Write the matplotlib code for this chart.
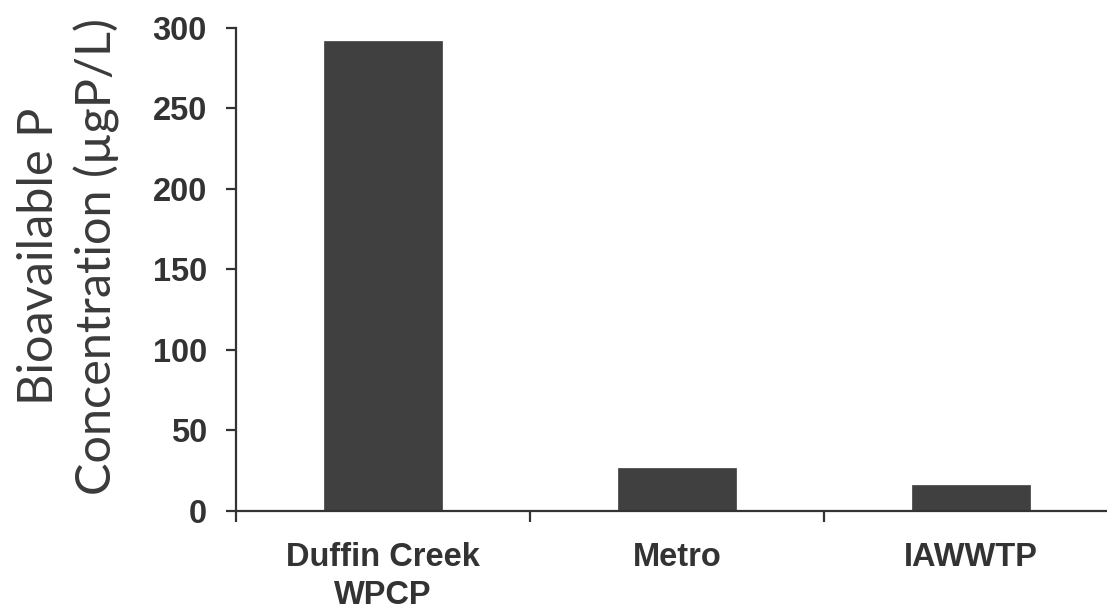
import matplotlib.pyplot as plt
import matplotlib.ticker as ticker

# values
sites = ['Duffin Creek\nWPCP', 'Metro', 'IAWWTP']
bioavail_p = [292, 27, 16]
y_ticks = [0, 50, 100, 150, 200, 250, 300]

DARK = '#404040'
INK = '#333333'

fig = plt.figure(figsize=(11.07, 6.07), dpi=100)
ax = fig.add_axes([0.2132, 0.1582, 0.7868, 0.7957])

xs = list(range(len(sites)))
ax.bar(xs, bioavail_p, width=0.4, color=DARK, edgecolor=DARK, linewidth=0.5, zorder=2)

ax.set_xlim(-0.5, 2.463)
ax.set_ylim(0, 300)

# spines
for side in ['top', 'right']:
    ax.spines[side].set_visible(False)
for side in ['left', 'bottom']:
    ax.spines[side].set_linewidth(1.6)
    ax.spines[side].set_color(INK)

# y axis
ax.set_yticks(y_ticks)
ax.tick_params(axis='y', direction='out', length=7, width=1.6, color=INK,
               pad=14, labelsize=23.5, labelcolor=INK)
for lab in ax.get_yticklabels():
    lab.set_family('Liberation Sans')
    lab.set_fontweight('bold')

# x axis: tick marks between categories, labels centered on bars
ax.xaxis.set_major_locator(ticker.FixedLocator([-0.5, 0.5, 1.5]))
ax.xaxis.set_major_formatter(ticker.NullFormatter())
ax.xaxis.set_minor_locator(ticker.FixedLocator(xs))
ax.xaxis.set_minor_formatter(ticker.FixedFormatter(sites))
ax.tick_params(axis='x', which='major', direction='out', length=8, width=1.6, color=INK)
ax.tick_params(axis='x', which='minor', length=0, pad=22, labelsize=23.5, labelcolor=INK)
for lab in ax.get_xticklabels(minor=True):
    lab.set_family('Liberation Sans')
    lab.set_fontweight('bold')
    lab.set_linespacing(1.3)

fig.text(0.062, 0.578, 'Bioavailable P\nConcentration (µgP/L)', rotation=90,
         ha='center', va='center', multialignment='center',
         family='Lato', fontsize=35, color='#3a3a3a', linespacing=1.35)

fig.savefig('out.png', dpi=100, facecolor='white')
